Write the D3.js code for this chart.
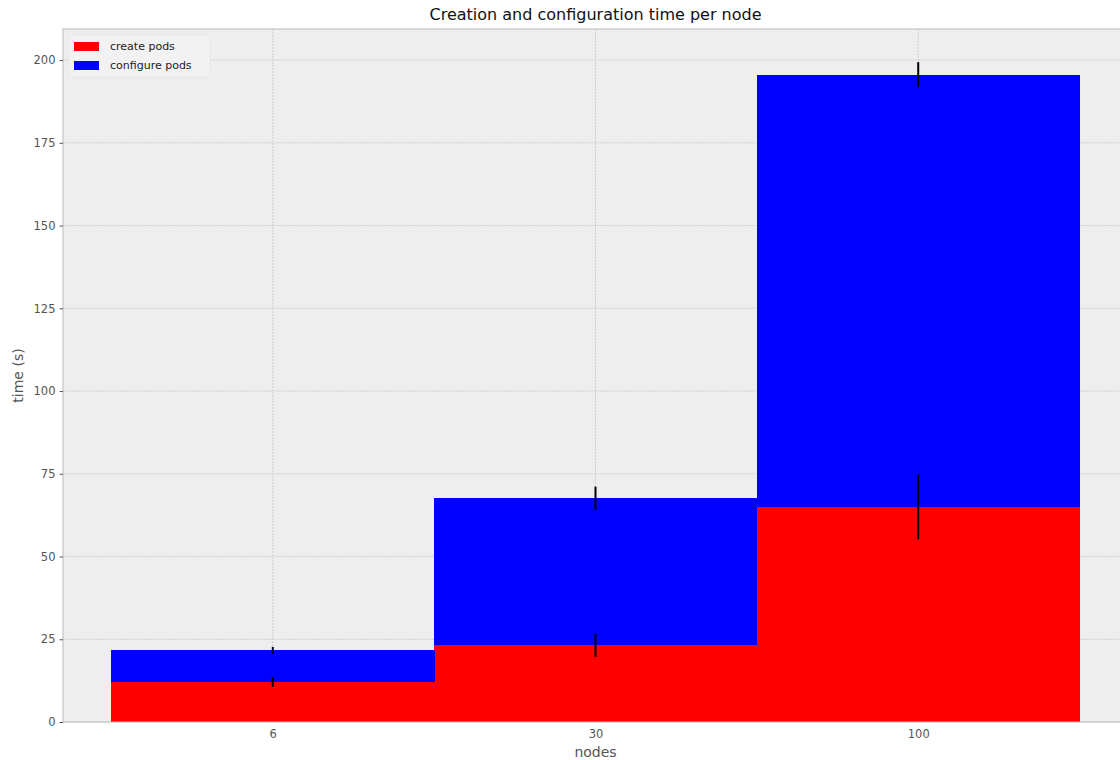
<!DOCTYPE html>
<html>
<head>
<meta charset="utf-8">
<script src="https://cdn.jsdelivr.net/npm/d3@7"></script>
<style>
  body { margin: 0; background: #fff; overflow: hidden; }
  svg { font-family: "DejaVu Sans", sans-serif; display: block; }
</style>
</head>
<body>
<script>
var categories = ["6", "30", "100"];
var createPods = [12.1, 23.2, 65.0];
var createErr = [1.5, 3.5, 9.8];
var configurePods = [9.6, 44.4, 130.6];
var configureErr = [1.0, 3.5, 3.8];
var yTicks = [0, 25, 50, 75, 100, 125, 150, 175, 200];

var width = 1120, height = 760;
var margin = { top: 29, left: 63, bottom: 38 };
var plotW = 1128 - margin.left; // axes run past the right edge of the picture
var plotH = height - margin.bottom - margin.top;

var svg = d3.select("body").append("svg")
    .attr("width", width)
    .attr("height", height);

var x = d3.scaleLinear()
    .domain([-0.65, categories.length - 1 + 0.65])
    .range([margin.left, margin.left + plotW]);

var y = d3.scaleLinear()
    .domain([0, 209.4])
    .range([margin.top + plotH, margin.top]);

// axes background
svg.append("rect")
    .attr("x", margin.left)
    .attr("y", margin.top)
    .attr("width", plotW)
    .attr("height", plotH)
    .attr("fill", "#eeeeee");

// grid
svg.append("g")
    .selectAll("line")
    .data(yTicks)
    .enter().append("line")
    .attr("x1", margin.left).attr("x2", margin.left + plotW)
    .attr("y1", function (d) { return y(d); })
    .attr("y2", function (d) { return y(d); })
    .attr("stroke", "#c8c8c8")
    .attr("stroke-width", 0.8)
    .attr("stroke-dasharray", "2,1");

svg.append("g")
    .selectAll("line")
    .data(categories)
    .enter().append("line")
    .attr("x1", function (d, i) { return x(i); })
    .attr("x2", function (d, i) { return x(i); })
    .attr("y1", margin.top).attr("y2", margin.top + plotH)
    .attr("stroke", "#c8c8c8")
    .attr("stroke-width", 0.8)
    .attr("stroke-dasharray", "2,1");

// stacked bars
var bars = svg.append("g").attr("shape-rendering", "crispEdges");
bars.selectAll(".create")
    .data(createPods)
    .enter().append("rect")
    .attr("class", "create")
    .attr("x", function (d, i) { return x(i - 0.5); })
    .attr("width", function (d, i) { return x(i + 0.5) - x(i - 0.5) + 0.5; })
    .attr("y", function (d) { return y(d); })
    .attr("height", function (d) { return y(0) - y(d); })
    .attr("fill", "#ff0000");

bars.selectAll(".configure")
    .data(configurePods)
    .enter().append("rect")
    .attr("class", "configure")
    .attr("x", function (d, i) { return x(i - 0.5); })
    .attr("width", function (d, i) { return x(i + 0.5) - x(i - 0.5) + 0.5; })
    .attr("y", function (d, i) { return y(createPods[i] + d); })
    .attr("height", function (d, i) { return y(createPods[i]) - y(createPods[i] + d); })
    .attr("fill", "#0000ff");

// error bars
var errs = svg.append("g");
errs.selectAll(".err-create")
    .data(createPods)
    .enter().append("line")
    .attr("x1", function (d, i) { return x(i); })
    .attr("x2", function (d, i) { return x(i); })
    .attr("y1", function (d, i) { return y(d - createErr[i]); })
    .attr("y2", function (d, i) { return y(d + createErr[i]); })
    .attr("stroke", "#000")
    .attr("stroke-width", 2);

errs.selectAll(".err-configure")
    .data(configurePods)
    .enter().append("line")
    .attr("x1", function (d, i) { return x(i); })
    .attr("x2", function (d, i) { return x(i); })
    .attr("y1", function (d, i) { return y(createPods[i] + d - configureErr[i]); })
    .attr("y2", function (d, i) { return y(createPods[i] + d + configureErr[i]); })
    .attr("stroke", "#000")
    .attr("stroke-width", 2);

// axes frame
svg.append("rect")
    .attr("x", margin.left)
    .attr("y", margin.top)
    .attr("width", plotW)
    .attr("height", plotH)
    .attr("fill", "none")
    .attr("stroke", "#bcbcbc")
    .attr("stroke-width", 1);

// y axis
var yAxis = svg.append("g")
    .attr("transform", "translate(" + margin.left + ",0)")
    .call(d3.axisLeft(y).tickValues(yTicks).tickSize(3.5).tickPadding(4));
yAxis.select(".domain").remove();
yAxis.selectAll("line").attr("stroke", "#555");
yAxis.selectAll("text").attr("fill", "#555").style("font-size", "11.5px")
    .style("font-family", "DejaVu Sans, sans-serif");

// x axis
var xAxis = svg.append("g")
    .attr("transform", "translate(0," + (margin.top + plotH) + ")")
    .call(d3.axisBottom(x).tickValues([0, 1, 2])
        .tickFormat(function (d) { return categories[d]; })
        .tickSize(0).tickPadding(8));
xAxis.select(".domain").remove();
xAxis.selectAll("text").attr("fill", "#555").style("font-size", "11.5px")
    .style("font-family", "DejaVu Sans, sans-serif");

// labels
svg.append("text")
    .attr("x", x(1))
    .attr("y", 20)
    .attr("text-anchor", "middle")
    .attr("fill", "#111")
    .style("font-size", "16px")
    .text("Creation and configuration time per node");

svg.append("text")
    .attr("x", x(1))
    .attr("y", 757)
    .attr("text-anchor", "middle")
    .attr("fill", "#555")
    .style("font-size", "14px")
    .text("nodes");

svg.append("text")
    .attr("transform", "translate(23," + (margin.top + plotH / 2) + ") rotate(-90)")
    .attr("text-anchor", "middle")
    .attr("fill", "#555")
    .style("font-size", "14px")
    .text("time (s)");

// legend
var legend = svg.append("g").attr("transform", "translate(69,35)");
legend.append("rect")
    .attr("width", 141)
    .attr("height", 42)
    .attr("rx", 3)
    .attr("fill", "#f2f2f2")
    .attr("stroke", "#e6e6e6")
    .attr("stroke-width", 0.8);
var legendItems = [
    { label: "create pods", color: "#ff0000" },
    { label: "configure pods", color: "#0000ff" }
];
legendItems.forEach(function (d, i) {
    legend.append("rect")
        .attr("x", 5).attr("y", 7 + i * 19)
        .attr("width", 25).attr("height", 9)
        .attr("fill", d.color);
    legend.append("text")
        .attr("x", 41).attr("y", 15 + i * 19)
        .attr("fill", "#222")
        .style("font-size", "11px")
        .text(d.label);
});
</script>
</body>
</html>
